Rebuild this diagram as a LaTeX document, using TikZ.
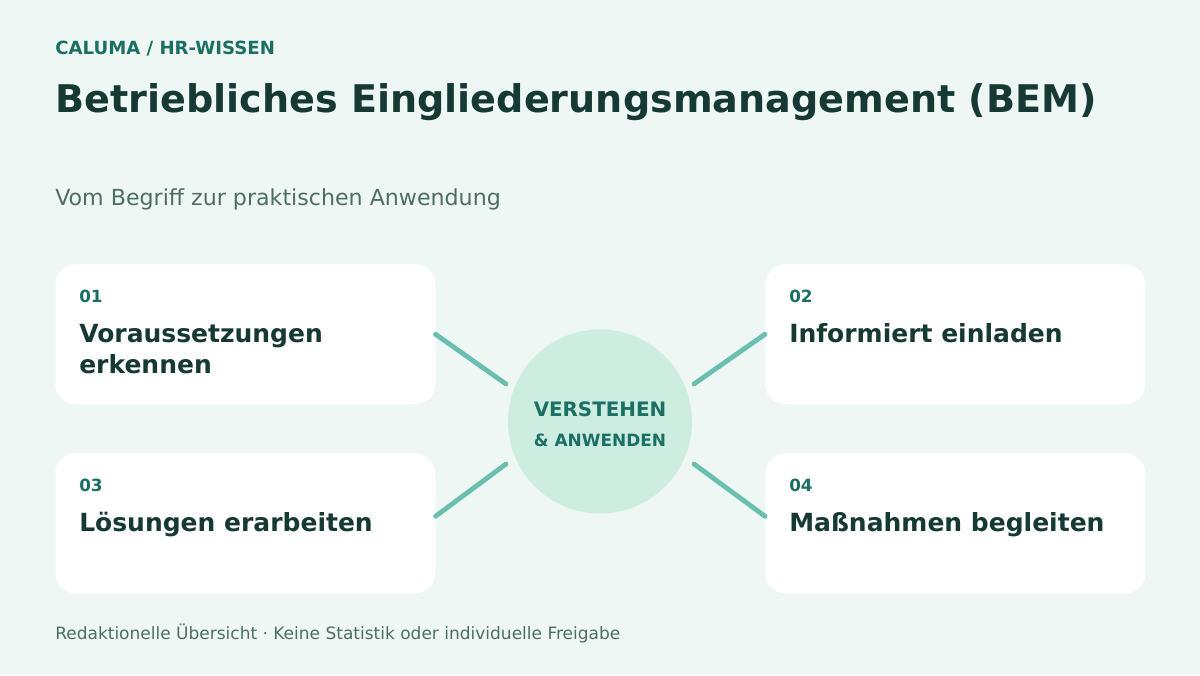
\documentclass[tikz,border=0pt]{standalone}
\usepackage{fontspec}
\setmainfont{DejaVu Sans}
\usetikzlibrary{calc}

\definecolor{bgmint}{HTML}{EEF7F3}
\definecolor{hubfill}{HTML}{CDEDE0}
\definecolor{spoke}{HTML}{6ABFB1}
\definecolor{tealtext}{HTML}{1B6F63}
\definecolor{darktext}{HTML}{163A33}
\definecolor{mutedtext}{HTML}{4E6E65}

\tikzset{
  txt/.style={anchor=base west, inner sep=0pt},
  card/.style={fill=white, rounded corners=15pt, minimum width=285pt,
    minimum height=105pt, inner sep=0pt, anchor=north west},
  cardnum/.style={txt, text=tealtext, font=\bfseries\fontsize{12.6}{14}\selectfont},
  cardtitle/.style={txt, text=darktext,
    font=\bfseries\fontsize{18.75}{23.25}\selectfont},
  spokeline/.style={spoke, line width=3.6pt, line cap=round}
}

\begin{document}
\begin{tikzpicture}[x=0.75pt, y=-0.75pt]

  % canvas (1 unit = 1px, y downwards)
  \fill[bgmint] (0,0) rectangle (1200,675);
  \useasboundingbox (0,0) rectangle (1200,675);

  % heading
  \node[txt, text=tealtext, font=\bfseries\fontsize{13.6}{16}\selectfont]
      (kicker) at (55,54) {CALUMA / HR-WISSEN};
  \node[txt, text=darktext, font=\bfseries\fontsize{28.6}{34}\selectfont]
      (title) at (55,112) {Betriebliches Eingliederungsmanagement (BEM)};
  \node[txt, text=mutedtext, font=\fontsize{16.6}{20}\selectfont]
      (subtitle) at (55,205) {Vom Begriff zur praktischen Anwendung};

  % cards
  \foreach \name/\x/\y/\num/\title in {
      c1/55/264/01/{Voraussetzungen\\erkennen},
      c2/765/264/02/{Informiert einladen},
      c3/55/453/03/{Lösungen erarbeiten},
      c4/765/453/04/{Maßnahmen begleiten}} {
    \node[card] (\name) at (\x,\y) {};
    \node[cardnum] (\name-num) at ($(\name.north west)+(24,38)$) {\num};
    \node[cardtitle] (\name-title) at ($(\name.north west)+(24,78)$)
        {\begin{tabular}[t]{@{}l@{}}\title\end{tabular}};
  }

  % hub
  \node[circle, fill=hubfill, minimum size=138pt, inner sep=0pt] (hub) at (600,421.5) {};
  \node[inner sep=0pt, anchor=base, text=tealtext, font=\bfseries\fontsize{14.9}{17}\selectfont]
      (hubtop) at (600,416.7) {VERSTEHEN};
  \node[inner sep=0pt, anchor=base, text=tealtext, font=\bfseries\fontsize{12.7}{15}\selectfont]
      (hubbot) at (600,446) {\& ANWENDEN};

  % spokes
  \coordinate (s1) at (506,384);
  \coordinate (s2) at (694,384);
  \coordinate (s3) at (506,464);
  \coordinate (s4) at (694,464);
  \draw[spokeline] (c1.east) -- (s1);
  \draw[spokeline] (c2.west) -- (s2);
  \draw[spokeline] ($(c3.east)+(0,-7)$) -- (s3);
  \draw[spokeline] ($(c4.west)+(0,-7)$) -- (s4);

  % footer
  \node[txt, text=mutedtext, font=\fontsize{12.75}{15}\selectfont]
      (footer) at (55,639) {Redaktionelle Übersicht · Keine Statistik oder individuelle Freigabe};

\end{tikzpicture}
\end{document}
